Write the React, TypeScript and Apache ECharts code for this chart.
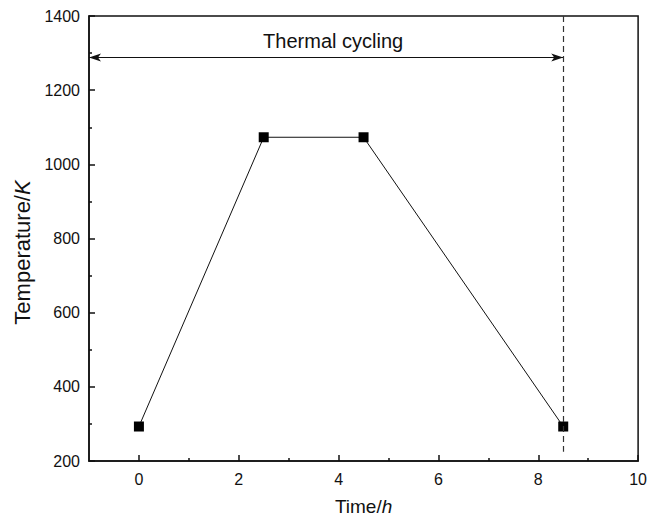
import React, { useEffect, useRef } from "react";
import * as echarts from "echarts";

const timeH = [0, 2.5, 4.5, 8.5];
const tempK = [293, 1073, 1073, 293];
const xRange = [-1, 10];
const yRange = [200, 1400];
const xMajorTicks = [0, 2, 4, 6, 8, 10];
const xMinorTicks = [1, 3, 5, 7, 9];
const arrowSpan = [-1, 8.5];
const arrowTemp = 1288;
const dashTime = 8.5;
const dashSpan = [1400, 225];
const annotation = "Thermal cycling";

const FONT = "Liberation Sans, Arial, sans-serif";
const INK = "#111";

export default function App() {
  const ref = useRef<HTMLDivElement>(null);
  useEffect(() => {
    if (!ref.current) return;
    const chart = echarts.init(ref.current, null, { renderer: "svg" });
    const axisLine = { show: true, onZero: false, lineStyle: { color: INK, width: 1.5 } };
    chart.setOption({
      animation: false,
      backgroundColor: "#fff",
      textStyle: { fontFamily: FONT },
      grid: {
        left: 89,
        right: 11,
        top: 16,
        bottom: 57,
        show: true,
        borderColor: INK,
        borderWidth: 1.5,
        backgroundColor: "transparent",
      },
      xAxis: [
        {
          type: "value",
          min: xRange[0],
          max: xRange[1],
          axisLine,
          axisTick: {
            inside: true,
            length: 6,
            customValues: xMajorTicks,
            lineStyle: { color: INK, width: 1.5 },
          },
          axisLabel: {
            color: INK,
            fontSize: 16,
            fontFamily: FONT,
            margin: 10,
            customValues: xMajorTicks,
            formatter: (v: number) => String(v),
          },
          splitLine: { show: false },
          name: "{n|Time/}{i|h}",
          nameLocation: "middle",
          nameGap: 36,
          nameTextStyle: {
            fontSize: 19,
            color: INK,
            fontFamily: FONT,
            rich: {
              n: { fontSize: 19, color: INK, fontFamily: FONT },
              i: { fontSize: 19, color: INK, fontFamily: FONT, fontStyle: "italic" },
            },
          },
        },
        {
          type: "value",
          min: xRange[0],
          max: xRange[1],
          position: "bottom",
          axisLine: { show: false, onZero: false },
          axisTick: {
            inside: true,
            length: 3,
            customValues: xMinorTicks,
            lineStyle: { color: INK, width: 1.5 },
          },
          axisLabel: { show: false },
          splitLine: { show: false },
        },
      ],
      yAxis: {
        type: "value",
        min: yRange[0],
        max: yRange[1],
        interval: 200,
        axisLine,
        axisTick: { inside: true, length: 6, lineStyle: { color: INK, width: 1.5 } },
        minorTick: { show: true, splitNumber: 2, length: 3, lineStyle: { color: INK, width: 1.5 } },
        axisLabel: {
          color: INK,
          fontSize: 16,
          fontFamily: FONT,
          margin: 9,
          formatter: (v: number) => String(v),
        },
        splitLine: { show: false },
        name: "{n|Temperature/}{i|K}",
        nameLocation: "middle",
        nameGap: 55,
        nameTextStyle: {
          fontSize: 22,
          color: INK,
          fontFamily: FONT,
          padding: [0, 28, 0, 0],
          rich: {
            n: { fontSize: 22, color: INK, fontFamily: FONT },
            i: { fontSize: 22, color: INK, fontFamily: FONT, fontStyle: "italic" },
          },
        },
      },
      series: [
        {
          type: "line",
          data: timeH.map((t, i) => [t, tempK[i]]),
          symbol: "rect",
          symbolSize: 10,
          itemStyle: { color: "#000" },
          lineStyle: { color: INK, width: 1 },
          markLine: {
            silent: true,
            symbol: ["none", "none"],
            data: [
              [
                {
                  coord: [arrowSpan[0], arrowTemp],
                  symbol: "arrow",
                  symbolSize: [6, 12],
                },
                {
                  coord: [arrowSpan[1], arrowTemp],
                  symbol: "arrow",
                  symbolSize: [6, 12],
                  lineStyle: { color: INK, width: 1, type: "solid" },
                  label: {
                    show: true,
                    position: "middle",
                    formatter: annotation,
                    color: INK,
                    fontSize: 20,
                    fontFamily: FONT,
                    distance: 7,
                    padding: [0, 0, 0, 14],
                  },
                },
              ],
              [
                { coord: [dashTime, dashSpan[0]] },
                {
                  coord: [dashTime, dashSpan[1]],
                  lineStyle: { color: "#333", width: 1.2, type: [6, 4] },
                  label: { show: false },
                },
              ],
            ],
          },
        },
      ],
    });
    return () => chart.dispose();
  }, []);
  return (
    <div
      ref={ref}
      style={{ position: "fixed", left: 0, top: 0, width: 650, height: 521 }}
    />
  );
}
